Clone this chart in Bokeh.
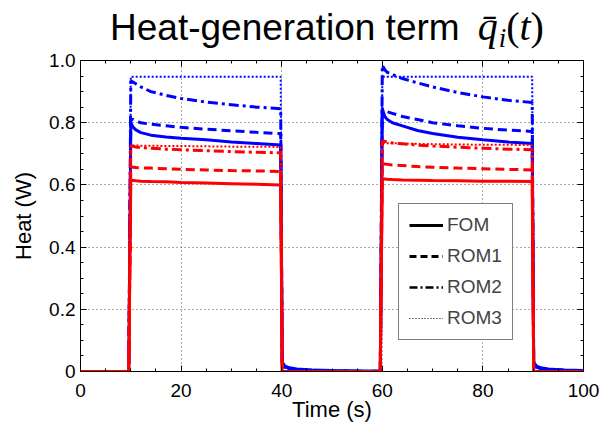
from bokeh.plotting import figure
from bokeh.models import (Range1d, FixedTicker, LinearAxis, Legend, LegendItem, Div)
from bokeh.layouts import column
from bokeh.embed import file_html
from bokeh.resources import INLINE

# ---------------- data ----------------
t = [0, 9.6, 10.0, 10.5, 11, 12, 14, 17, 20, 25, 30, 35, 39.8,
     40.1, 40.6, 41.5, 43, 46, 50, 55, 59.6,
     60.0, 60.5, 61, 62, 64, 67, 70, 75, 80, 85, 89.8,
     90.1, 90.6, 91.5, 93, 96, 100]

blue_fom = [0, 0, 0.800, 0.785, 0.777, 0.768, 0.760, 0.754, 0.750, 0.745, 0.738, 0.733, 0.728,
            0.030, 0.018, 0.012, 0.008, 0.005, 0.003, 0.002, 0.001,
            0.845, 0.820, 0.810, 0.800, 0.790, 0.775, 0.765, 0.753, 0.745, 0.738, 0.733,
            0.030, 0.018, 0.012, 0.008, 0.005, 0.003]
blue_rom1 = [0, 0, 0.810, 0.810, 0.805, 0.800, 0.795, 0.790, 0.785, 0.779, 0.774, 0.769, 0.765,
             0.025, 0.015, 0.010, 0.006, 0.004, 0.002, 0.001, 0.001,
             0.845, 0.840, 0.835, 0.830, 0.820, 0.810, 0.800, 0.790, 0.782, 0.776, 0.772,
             0.025, 0.015, 0.010, 0.006, 0.004, 0.002]
blue_rom2 = [0, 0, 0.935, 0.930, 0.925, 0.915, 0.900, 0.888, 0.878, 0.866, 0.858, 0.850, 0.845,
             0.025, 0.015, 0.010, 0.006, 0.004, 0.002, 0.001, 0.001,
             0.985, 0.970, 0.962, 0.955, 0.942, 0.928, 0.915, 0.897, 0.883, 0.872, 0.865,
             0.025, 0.015, 0.010, 0.006, 0.004, 0.002]
blue_rom3 = [0, 0, 0.948, 0.948, 0.948, 0.948, 0.948, 0.948, 0.948, 0.948, 0.948, 0.948, 0.948,
             0.020, 0.012, 0.008, 0.005, 0.003, 0.002, 0.001, 0.001,
             0.948, 0.948, 0.948, 0.948, 0.948, 0.948, 0.948, 0.948, 0.948, 0.948, 0.948,
             0.020, 0.012, 0.008, 0.005, 0.003, 0.002]

red_fom = [0, 0, 0.615, 0.614, 0.613, 0.612, 0.611, 0.610, 0.608, 0.606, 0.604, 0.602, 0.600,
           0, 0, 0, 0, 0, 0, 0, 0,
           0.620, 0.619, 0.618, 0.617, 0.616, 0.615, 0.614, 0.613, 0.612, 0.612, 0.611,
           0, 0, 0, 0, 0, 0]
red_rom1 = [0, 0, 0.658, 0.657, 0.656, 0.655, 0.654, 0.652, 0.650, 0.648, 0.646, 0.645, 0.643,
            0, 0, 0, 0, 0, 0, 0, 0,
            0.668, 0.667, 0.666, 0.664, 0.662, 0.659, 0.657, 0.654, 0.652, 0.650, 0.648,
            0, 0, 0, 0, 0, 0]
red_rom2 = [0, 0, 0.725, 0.724, 0.722, 0.720, 0.718, 0.715, 0.713, 0.710, 0.707, 0.705, 0.703,
            0, 0, 0, 0, 0, 0, 0, 0,
            0.742, 0.740, 0.738, 0.735, 0.732, 0.728, 0.725, 0.721, 0.718, 0.715, 0.713,
            0, 0, 0, 0, 0, 0]
red_rom3 = [0, 0, 0.727, 0.727, 0.727, 0.726, 0.726, 0.725, 0.725, 0.724, 0.723, 0.723, 0.722,
            0, 0, 0, 0, 0, 0, 0, 0,
            0.735, 0.735, 0.734, 0.734, 0.733, 0.732, 0.731, 0.730, 0.729, 0.729, 0.728,
            0, 0, 0, 0, 0, 0]

x_ticks = [0, 20, 40, 60, 80, 100]
x_minor = [0, 5, 10, 15, 20, 25, 30, 35, 40, 45, 50, 55, 60, 65, 70, 75, 80, 85, 90, 95, 100]
y_ticks = [0, 0.2, 0.4, 0.6, 0.8, 1.0]
y_tick_labels = ["0", "0.2", "0.4", "0.6", "0.8", "1.0"]
y_minor = [0, 0.05, 0.1, 0.15, 0.2, 0.25, 0.3, 0.35, 0.4, 0.45, 0.5, 0.55, 0.6,
           0.65, 0.7, 0.75, 0.8, 0.85, 0.9, 0.95, 1.0]
legend_labels = ["FOM", "ROM1", "ROM2", "ROM3"]
no_data = [float("nan")]

# ---------------- title ----------------
FONT = "Liberation Sans"
title_html = (
    '<div style="font-family:\'Liberation Sans\',Arial,sans-serif; font-size:37px; '
    'line-height:37px; padding-left:110px; padding-top:8px; white-space:nowrap; color:#000">'
    'Heat-generation term'
    '<span style="font-family:\'Liberation Serif\',serif; font-size:40px; margin-left:18px">'
    '<i>q&#772;</i>'
    '<i style="font-size:27px; position:relative; top:7px; margin-left:1px">i</i>'
    '(<i>t</i>)</span></div>'
)
title_div = Div(text=title_html, width=615, height=50, margin=0)

# ---------------- figure ----------------
p = figure(width=615, height=376, output_backend="svg", toolbar_location=None,
           x_range=Range1d(0, 100), y_range=Range1d(0, 1),
           min_border_left=80, min_border_right=32, min_border_top=10, min_border_bottom=55,
           x_axis_label="Time (s)", y_axis_label="Heat (W)", margin=0)
p.background_fill_color = "white"
p.border_fill_color = "white"
p.outline_line_color = "black"
p.outline_line_width = 1

for ax in (p.xaxis[0], p.yaxis[0]):
    ax.major_tick_in = 6
    ax.major_tick_out = 0
    ax.minor_tick_in = 3
    ax.minor_tick_out = 0
    ax.axis_line_color = "black"
    ax.major_tick_line_color = "black"
    ax.minor_tick_line_color = "black"
    ax.major_label_text_font = FONT
    ax.major_label_text_font_size = "19px"
    ax.major_label_text_color = "black"
    ax.axis_label_text_font = FONT
    ax.axis_label_text_font_size = "22px"
    ax.axis_label_text_font_style = "normal"
    ax.axis_label_text_color = "black"

p.xaxis[0].ticker = FixedTicker(ticks=x_ticks, minor_ticks=x_minor)
p.yaxis[0].ticker = FixedTicker(ticks=y_ticks, minor_ticks=y_minor)
p.yaxis[0].major_label_overrides = {v: s for v, s in zip(y_ticks, y_tick_labels)}
p.xaxis[0].major_label_standoff = 12
p.xaxis[0].axis_label_standoff = -3
p.yaxis[0].major_label_standoff = 5
p.yaxis[0].axis_label_standoff = 10

# box axes (top/right) with inward ticks, labels not drawn
top = LinearAxis(ticker=FixedTicker(ticks=x_ticks, minor_ticks=x_minor),
                 major_label_text_font_size="1px", major_label_text_color=None,
                 major_tick_in=6, major_tick_out=0,
                 minor_tick_in=3, minor_tick_out=0, major_label_standoff=0)
right = LinearAxis(ticker=FixedTicker(ticks=y_ticks, minor_ticks=y_minor),
                   major_label_text_font_size="1px", major_label_text_color=None,
                   major_tick_in=6, major_tick_out=0,
                   minor_tick_in=3, minor_tick_out=0, major_label_standoff=0)
p.add_layout(top, "above")
p.add_layout(right, "right")

p.xgrid[0].ticker = FixedTicker(ticks=x_ticks)
p.ygrid[0].ticker = FixedTicker(ticks=y_ticks)
for g in (p.xgrid[0], p.ygrid[0]):
    g.grid_line_color = "#555555"
    g.grid_line_dash = "1 3"
    g.grid_line_width = 1

BLUE = "#0000ff"
RED = "#ff0000"
styles = [("solid", 3), ("9 5", 3), ("10 4 3 4", 3), ("2 2", 2)]
blue = [blue_fom, blue_rom1, blue_rom2, blue_rom3]
red = [red_fom, red_rom1, red_rom2, red_rom3]
for ys, (dash, w) in zip(blue, styles):
    p.line(t, ys, line_color=BLUE, line_width=w, line_dash=dash)
for ys, (dash, w) in zip(red, styles):
    p.line(t, ys, line_color=RED, line_width=w, line_dash=dash)

# legend (black samples)
items = []
leg_styles = [("solid", 3), ("7 4", 3), ("8 3 2 3", 2.5), ("1 2", 1)]
for lab, (dash, w) in zip(legend_labels, leg_styles):
    r = p.line(no_data, no_data, line_color="black", line_width=w, line_dash=dash)
    items.append(LegendItem(label=lab, renderers=[r]))
legend = Legend(items=items, location=(318, 31), padding=10, spacing=9,
                glyph_width=34, glyph_height=20, label_height=20, label_standoff=4,
                label_text_font=FONT, label_text_font_size="19px",
                border_line_color="black", border_line_width=1.5,
                background_fill_color="white", background_fill_alpha=1,
                margin=0)
p.add_layout(legend, "center")

layout = column(title_div, p, spacing=0, margin=0)
open("out.html", "w").write(file_html(layout, INLINE))
